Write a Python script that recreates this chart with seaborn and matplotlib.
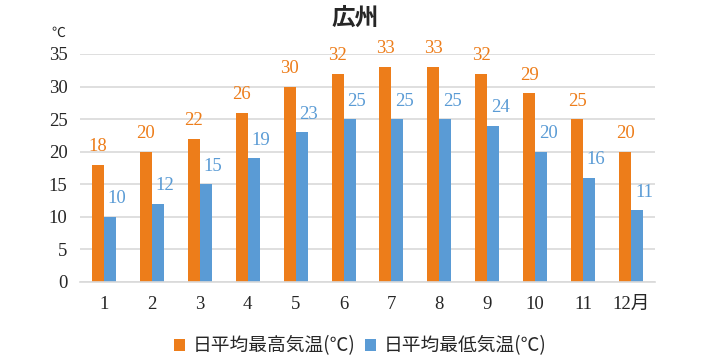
import pandas as pd
import matplotlib.pyplot as plt
import seaborn as sns

# ============================
# Data
# ============================

months = ["1", "2", "3", "4", "5", "6", "7", "8", "9", "10", "11", "12月"]
high_temp = [18, 20, 22, 26, 30, 32, 33, 33, 32, 29, 25, 20]
low_temp = [10, 12, 15, 19, 23, 25, 25, 25, 24, 20, 16, 11]
series_names = ["日平均最高気温(℃)", "日平均最低気温(℃)"]
y_ticks = [0, 5, 10, 15, 20, 25, 30, 35]

ORANGE = "#ED7D1A"
BLUE = "#5A9BD5"
SERIF = ["Liberation Serif", "DejaVu Serif"]
CJK = ["Noto Sans CJK JP", "DejaVu Sans"]


def build_frame():
    """Long-form table for seaborn."""
    df = pd.concat([
        pd.DataFrame({"month": months, "temp": high_temp, "series": series_names[0]}),
        pd.DataFrame({"month": months, "temp": low_temp, "series": series_names[1]}),
    ])
    return df


def main():
    sns.set_style("white")
    plt.rcParams['font.family'] = CJK

    df = build_frame()
    fig = plt.figure(figsize=(7.07, 3.64), dpi=100)
    ax = fig.add_axes([80 / 707, 1 - 282 / 364, 575 / 707, 228 / 364])

    sns.barplot(data=df, x="month", y="temp", hue="series", order=months,
                hue_order=series_names, palette=[ORANGE, BLUE],
                width=0.5, gap=0, saturation=1, linewidth=0, ax=ax, legend=True)

    # value labels
    for i, cont in enumerate(ax.containers):
        color = [ORANGE, BLUE][i]
        dx = 0 if i == 0 else 5
        for bar in cont:
            h = bar.get_height()
            ax.annotate(f"{h:.0f}", (bar.get_x() + bar.get_width() / 2, h),
                        xytext=(dx, 13), textcoords="offset points",
                        ha="center", va="center", color=color,
                        fontsize=13.5, family=SERIF)

    ax.set_ylim(0, 35)
    ax.set_yticks(y_ticks)
    ax.set_yticklabels([str(t) for t in y_ticks], family=SERIF, fontsize=13.5)
    ax.set_xticks(range(len(months)))
    ax.set_xticklabels(months, family=["Liberation Serif", "Noto Sans CJK JP"], fontsize=13.5)
    ax.tick_params(axis="x", length=0, pad=10)
    ax.tick_params(axis="y", length=0, pad=9)
    ax.set_xlabel("")
    ax.set_ylabel("")
    ax.yaxis.grid(True, color="#D9D9D9", linewidth=1.2)
    ax.set_axisbelow(True)
    for side in ["top", "right", "left"]:
        ax.spines[side].set_visible(False)
    ax.spines["bottom"].set_color("#D9D9D9")
    ax.spines["bottom"].set_linewidth(1.2)

    ax.legend(loc="center", bbox_to_anchor=(0.487, -0.28), ncol=2, frameon=False,
              fontsize=13.5, handlelength=0.6, handleheight=0.6, handletextpad=0.4,
              columnspacing=0.5)

    fig.text(355 / 707, 1 - 18 / 364, "広州", ha="center", va="center",
             fontsize=17, fontweight="bold", family=CJK)
    fig.text(58 / 707, 1 - 33 / 364, "℃", ha="center", va="center",
             fontsize=10, family=CJK)

    fig.savefig("out.png", dpi=100)
    plt.close()


if __name__ == "__main__":
    main()
